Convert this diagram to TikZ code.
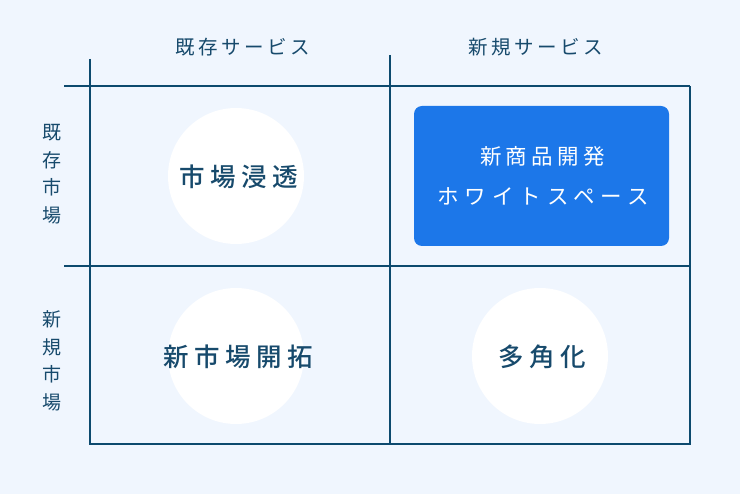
\documentclass[tikz,border=0pt]{standalone}
\usepackage{fontspec}
\setmainfont{Noto Sans CJK JP}
\newfontfamily\jphead[LetterSpace=18]{Noto Sans CJK JP}
\newfontfamily\jpcirc[LetterSpace=22]{Noto Sans CJK JP Medium}
\newfontfamily\jpboxa[LetterSpace=20]{Noto Sans CJK JP}
\newfontfamily\jpboxb[LetterSpace=28]{Noto Sans CJK JP}
\newfontfamily\jpside{Noto Sans CJK JP}
\definecolor{bg}{HTML}{F0F6FE}
\definecolor{gridc}{HTML}{0D4A6E}
\definecolor{ink}{HTML}{174A6C}
\definecolor{boxblue}{HTML}{1C77E9}
\tikzset{
  gridline/.style={draw=gridc, line width=2pt},
  headlabel/.style={text=ink, inner sep=0pt, font=\jphead\fontsize{19.5}{22}\selectfont},
  sidelabel/.style={text=ink, inner sep=0pt, align=center, font=\jpside\fontsize{19}{27.5}\selectfont},
  quadcircle/.style={circle, fill=white, minimum size=136pt, inner sep=0pt},
  quadtext/.style={text=ink, inner sep=0pt, font=\jpcirc\fontsize{25.5}{28}\selectfont},
  bluebox/.style={fill=boxblue, rounded corners=8pt, minimum width=255pt, minimum height=140pt, inner sep=0pt, text=white, align=center, font=\fontsize{21.5}{40}\selectfont}
}
\begin{document}
\begin{tikzpicture}[x=1pt,y=-1pt]
\fill[bg] (0,0) rectangle (740,494);
\useasboundingbox (0,0) rectangle (740,494);
% grid
\draw[gridline] (90,59) -- (90,444) -- (690,444) -- (690,86);
\draw[gridline] (64,86) -- (690,86);
\draw[gridline] (64,266) -- (690,266);
\draw[gridline] (390,55) -- (390,444);
% headers
\node[headlabel] (h1) at (243,47) {既存サービス};
\node[headlabel] (h2) at (536,47) {新規サービス};
\node[sidelabel] (s1) at (52,174) {既\\存\\市\\場};
\node[sidelabel] (s2) at (52,361) {新\\規\\市\\場};
% quadrants
\node[quadcircle] (c1) at (236,176) {};
\node[quadcircle] (c2) at (236,356) {};
\node[quadcircle] (c3) at (540,356) {};
\node[quadtext] (t1) at ([xshift=2.5pt,yshift=-1pt]c1.center) {市場浸透};
\node[quadtext] (t2) at ([xshift=2.5pt,yshift=-1pt]c2.center) {新市場開拓};
\node[quadtext] (t3) at ([xshift=2.5pt,yshift=-1pt]c3.center) {多角化};
\node[bluebox] (b) at (541.5,176) {{\jpboxa\hspace*{2pt}新商品開発}\\{\jpboxb\hspace*{3pt}ホワイトスペース}};
\end{tikzpicture}
\end{document}
